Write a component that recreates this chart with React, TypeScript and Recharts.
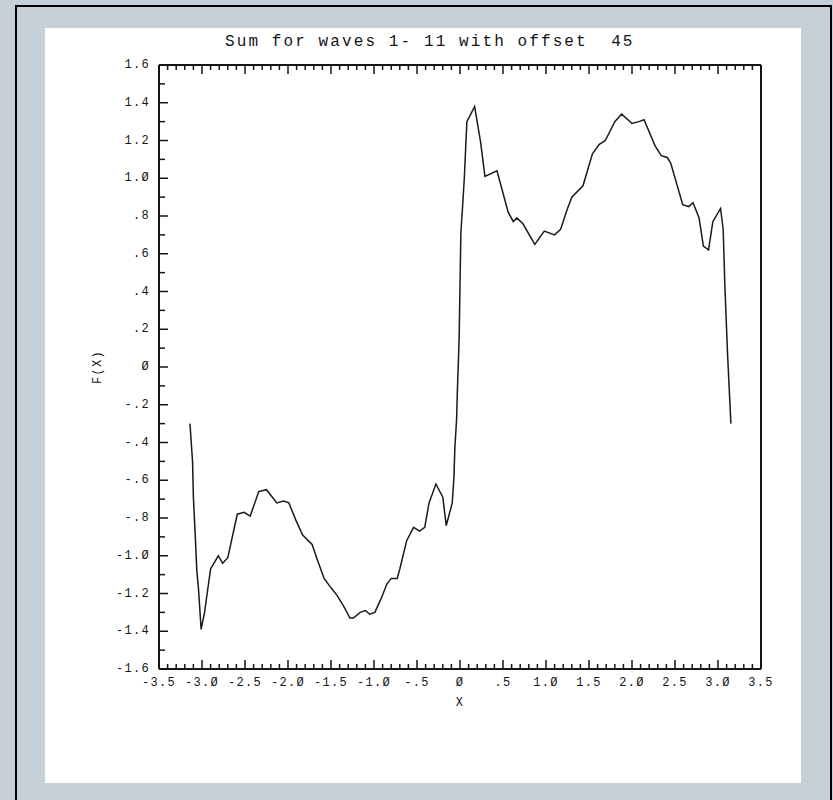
import React from 'react';
import { LineChart, Line, XAxis, YAxis, Label } from 'recharts';

// F(X), x from -pi to pi
const xValues = [
  -3.14, -3.11, -3.10, -3.08, -3.06, -3.04, -3.01, -2.97, -2.94, -2.90,
  -2.81, -2.76, -2.70, -2.59, -2.51, -2.44, -2.34, -2.25, -2.13, -2.05,
  -1.99, -1.91, -1.83, -1.72, -1.66, -1.58, -1.50, -1.43, -1.35, -1.28,
  -1.24, -1.16, -1.10, -1.05, -0.99, -0.92, -0.85, -0.80, -0.73, -0.70,
  -0.62, -0.54, -0.47, -0.41, -0.36, -0.28, -0.20, -0.16, -0.09, -0.07,
  -0.06, -0.04, -0.03, -0.01, 0.00, 0.01, 0.03, 0.05, 0.08, 0.17,
  0.24, 0.29, 0.43, 0.56, 0.62, 0.66, 0.73, 0.87, 0.98, 1.10,
  1.17, 1.25, 1.30, 1.43, 1.54, 1.62, 1.69, 1.80, 1.88, 2.00,
  2.08, 2.14, 2.27, 2.34, 2.41, 2.45, 2.59, 2.66, 2.71, 2.78,
  2.83, 2.89, 2.94, 3.03, 3.06, 3.08, 3.11, 3.15,
];

const fValues = [
  -0.30, -0.50, -0.69, -0.88, -1.08, -1.18, -1.39, -1.30, -1.20, -1.07,
  -1.00, -1.04, -1.01, -0.78, -0.77, -0.79, -0.66, -0.65, -0.72, -0.71,
  -0.72, -0.81, -0.89, -0.94, -1.02, -1.12, -1.17, -1.21, -1.27, -1.33,
  -1.33, -1.30, -1.29, -1.31, -1.30, -1.23, -1.15, -1.12, -1.12, -1.07,
  -0.92, -0.85, -0.87, -0.85, -0.72, -0.62, -0.69, -0.84, -0.72, -0.58,
  -0.43, -0.28, -0.12, 0.15, 0.43, 0.71, 0.85, 1.00, 1.30, 1.38,
  1.19, 1.01, 1.04, 0.82, 0.77, 0.79, 0.76, 0.65, 0.72, 0.70,
  0.73, 0.84, 0.90, 0.96, 1.13, 1.18, 1.20, 1.30, 1.34, 1.29,
  1.30, 1.31, 1.17, 1.12, 1.11, 1.08, 0.86, 0.85, 0.87, 0.79,
  0.64, 0.62, 0.77, 0.84, 0.73, 0.43, 0.08, -0.30,
];

const xMajorTicks = [-3.5, -3.0, -2.5, -2.0, -1.5, -1.0, -0.5, 0, 0.5, 1.0, 1.5, 2.0, 2.5, 3.0, 3.5];
const xTickLabels = ['-3.5', '-3.Ø', '-2.5', '-2.Ø', '-1.5', '-1.Ø', '-.5', 'Ø', '.5', '1.Ø', '1.5', '2.Ø', '2.5', '3.Ø', '3.5'];

const yMajorTicks = [-1.6, -1.4, -1.2, -1.0, -0.8, -0.6, -0.4, -0.2, 0, 0.2, 0.4, 0.6, 0.8, 1.0, 1.2, 1.4, 1.6];
const yTickLabels = ['-1.6', '-1.4', '-1.2', '-1.Ø', '-.8', '-.6', '-.4', '-.2', 'Ø', '.2', '.4', '.6', '.8', '1.Ø', '1.2', '1.4', '1.6'];

const title = 'Sum for waves 1- 11 with offset  45';

const data = xValues.map((x, i) => ({ x, f: fValues[i] }));

// minor ticks every 0.1
const xMinorTicks = Array.from({ length: 71 }, (_, i) => Math.round((-3.5 + i * 0.1) * 10) / 10);
const yMinorTicks = Array.from({ length: 33 }, (_, i) => Math.round((-1.6 + i * 0.1) * 10) / 10);

const INK = '#151515';
const FONT = '"Liberation Mono", "DejaVu Sans Mono", monospace';

const findLabel = (v: number, majors: number[], labels: string[]) => {
  const i = majors.findIndex(m => Math.abs(m - v) < 1e-6);
  return i >= 0 ? labels[i] : null;
};

const tickText = { fontFamily: FONT, fontSize: 12, letterSpacing: 1.3, fill: INK };

function BottomTick(props: any) {
  const { x, y, payload } = props;
  const label = findLabel(payload.value, xMajorTicks, xTickLabels);
  return (
    <g>
      <line x1={x} x2={x} y1={y} y2={y - (label ? 9 : 5)} stroke={INK} strokeWidth={1.5} />
      {label && (
        <text x={x} y={y + 14} textAnchor="middle" dominantBaseline="central" style={tickText}>
          {label}
        </text>
      )}
    </g>
  );
}

function TopTick(props: any) {
  const { x, y, payload } = props;
  const major = findLabel(payload.value, xMajorTicks, xTickLabels);
  return <line x1={x} x2={x} y1={y} y2={y + (major ? 9 : 5)} stroke={INK} strokeWidth={1.5} />;
}

function LeftTick(props: any) {
  const { x, y, payload } = props;
  const label = findLabel(payload.value, yMajorTicks, yTickLabels);
  return (
    <g>
      <line x1={x} x2={x + (label ? 9 : 6)} y1={y} y2={y} stroke={INK} strokeWidth={1.5} />
      {label && (
        <text x={x - 9} y={y} textAnchor="end" dominantBaseline="central" style={tickText}>
          {label}
        </text>
      )}
    </g>
  );
}

function RightTick(props: any) {
  const { x, y, payload } = props;
  const major = findLabel(payload.value, yMajorTicks, yTickLabels);
  return <line x1={x} x2={x - (major ? 9 : 6)} y1={y} y2={y} stroke={INK} strokeWidth={1.5} />;
}

export default function App() {
  const axisLine = { stroke: INK, strokeWidth: 2 };
  return (
    <div style={{ position: 'absolute', left: 0, top: 0, width: 833, height: 800, background: '#c5d0d8', overflow: 'hidden' }}>
      <div style={{ position: 'absolute', left: 15, top: 5, width: 813, height: 820, border: '2px solid #000' }} />
      <div style={{ position: 'absolute', left: 45, top: 28, width: 756, height: 755, background: '#fff' }}>
        <div
          style={{
            position: 'absolute', left: 180, top: 6, whiteSpace: 'pre',
            fontFamily: FONT, fontSize: 16, letterSpacing: 2.1, color: INK, lineHeight: '16px',
          }}
        >
          {title}
        </div>
        <LineChart width={756} height={755} data={data} margin={{ top: 17, right: 20, bottom: 64, left: 44 }}>
          <XAxis
            xAxisId="b"
            dataKey="x"
            type="number"
            domain={[-3.5, 3.5]}
            ticks={xMinorTicks}
            interval={0}
            height={50}
            tickSize={0}
            tickMargin={0}
            tickLine={false}
            axisLine={axisLine}
            tick={<BottomTick />}
          >
            <Label
              content={({ viewBox }: any) => (
                <text
                  x={viewBox.x + viewBox.width / 2}
                  y={viewBox.y + 34}
                  textAnchor="middle"
                  dominantBaseline="central"
                  style={tickText}
                >
                  X
                </text>
              )}
            />
          </XAxis>
          <XAxis
            xAxisId="t"
            orientation="top"
            dataKey="x"
            type="number"
            domain={[-3.5, 3.5]}
            ticks={xMinorTicks}
            interval={0}
            height={20}
            tickSize={0}
            tickMargin={0}
            tickLine={false}
            axisLine={axisLine}
            tick={<TopTick />}
          />
          <YAxis
            yAxisId="l"
            type="number"
            domain={[-1.6, 1.6]}
            ticks={yMinorTicks}
            interval={0}
            width={70}
            tickSize={0}
            tickMargin={0}
            tickLine={false}
            axisLine={axisLine}
            tick={<LeftTick />}
          >
            <Label
              content={({ viewBox }: any) => {
                const cx = viewBox.x + 9;
                const cy = viewBox.y + viewBox.height / 2;
                return (
                  <text
                    x={cx}
                    y={cy}
                    transform={`rotate(-90 ${cx} ${cy})`}
                    textAnchor="middle"
                    dominantBaseline="central"
                    style={tickText}
                  >
                    F(X)
                  </text>
                );
              }}
            />
          </YAxis>
          <YAxis
            yAxisId="r"
            orientation="right"
            type="number"
            domain={[-1.6, 1.6]}
            ticks={yMinorTicks}
            interval={0}
            width={20}
            tickSize={0}
            tickMargin={0}
            tickLine={false}
            axisLine={axisLine}
            tick={<RightTick />}
          />
          <Line
            xAxisId="b"
            yAxisId="l"
            dataKey="f"
            type="linear"
            stroke="#1a1a1a"
            strokeWidth={1.5}
            dot={false}
            isAnimationActive={false}
          />
        </LineChart>
      </div>
    </div>
  );
}
